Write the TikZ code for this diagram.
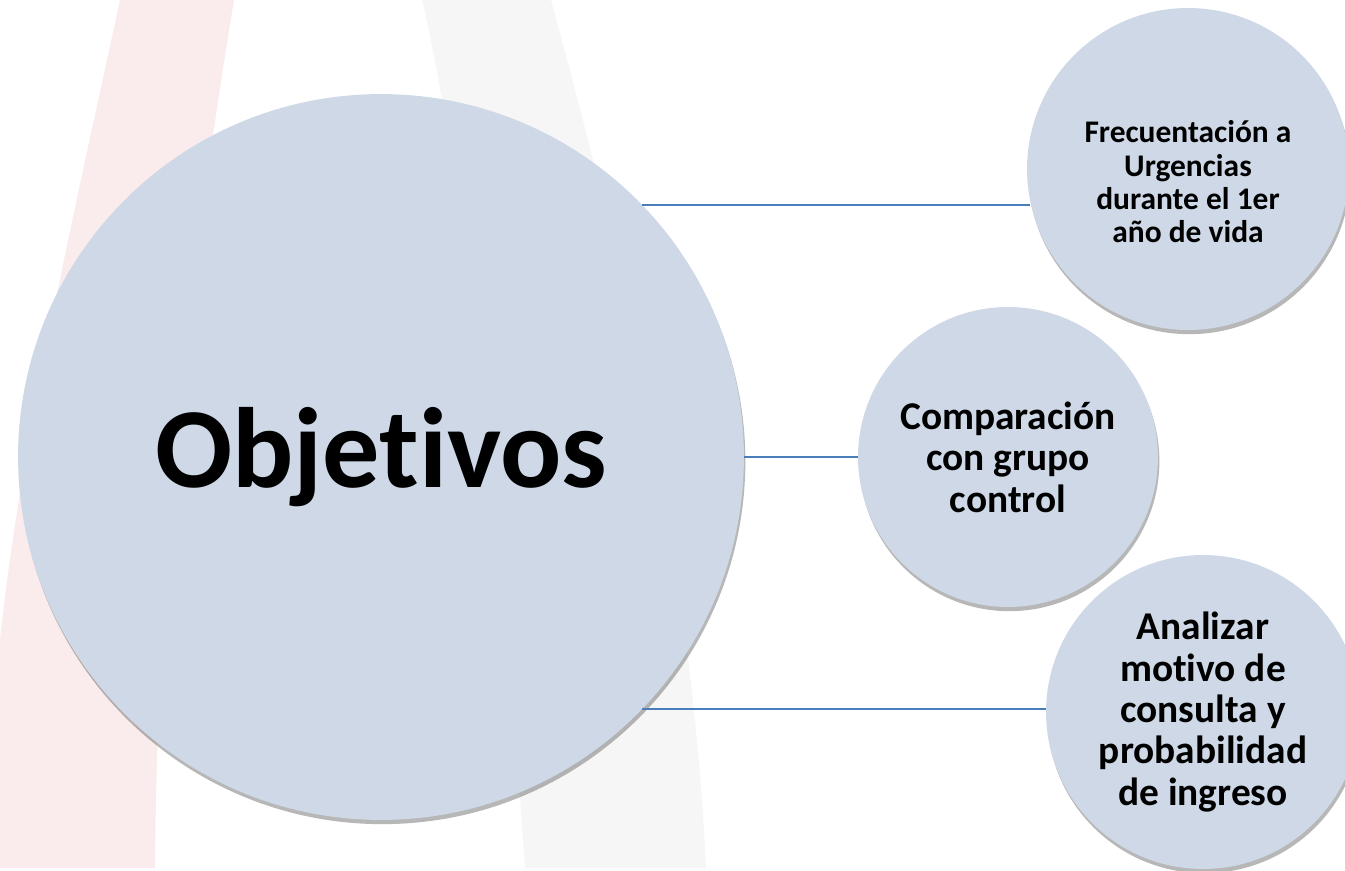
\documentclass[tikz,border=0pt]{standalone}
\usepackage{fontspec}
\setmainfont{Carlito}[Ligatures={NoCommon,NoContextual}]
\usetikzlibrary{shadows}

\definecolor{bubble}{RGB}{206,216,230}
\definecolor{linkblue}{RGB}{74,126,187}
\definecolor{pinkband}{RGB}{250,236,236}
\definecolor{greyband}{RGB}{246,246,246}

\begin{document}
\begin{tikzpicture}[x=0.02cm,y=-0.02cm,
  every node/.style={circle,fill=bubble,inner sep=0pt,align=center,
    drop shadow={shadow xshift=0.8pt,shadow yshift=-2.4pt,opacity=0.4,fill=black!70}},
  link/.style={draw=linkblue,line width=1.1pt}]
\clip (0,0) rectangle (1345,871);
% faint background bands
\fill[pinkband] (120,0) -- (234,0) .. controls (185,300) and (158,550) .. (155,868)
  -- (0,868) -- (0,640) .. controls (20,450) and (70,230) .. (120,0) -- cycle;
\fill[greyband] (422,0) -- (551,0) .. controls (600,180) and (690,520) .. (706,868)
  -- (525,868) .. controls (500,500) and (460,160) .. (422,0) -- cycle;
% bubbles
\node[minimum size=14.52cm,font=\fontsize{65}{70}\selectfont\bfseries]     (obj)  at (381,457)  {Objetivos};
\node[minimum size=6.44cm,font=\fontsize{17.9}{18.9}\selectfont\bfseries]  (frec) at (1188,169) {\rule{0pt}{0.95cm}Frecuentación a\\Urgencias\\durante el 1er\\año de vida};
\node[minimum size=6cm,font=\fontsize{22.4}{23.6}\selectfont\bfseries]     (comp) at (1008,457) {Comparación\\con grupo\\control};
\node[minimum size=6.28cm,font=\fontsize{22.4}{23.6}\selectfont\bfseries]  (anal) at (1203,712) {Analizar\\motivo de\\consulta y\\probabilidad\\de ingreso};
% connectors
\draw[link] (obj.44.2)  -- (obj.44.2 -| frec.192.6);
\draw[link] (obj.east)  -- (comp.west);
\draw[link] (obj.-44.4) -- (obj.-44.4 -| anal.west);
\end{tikzpicture}
\end{document}
